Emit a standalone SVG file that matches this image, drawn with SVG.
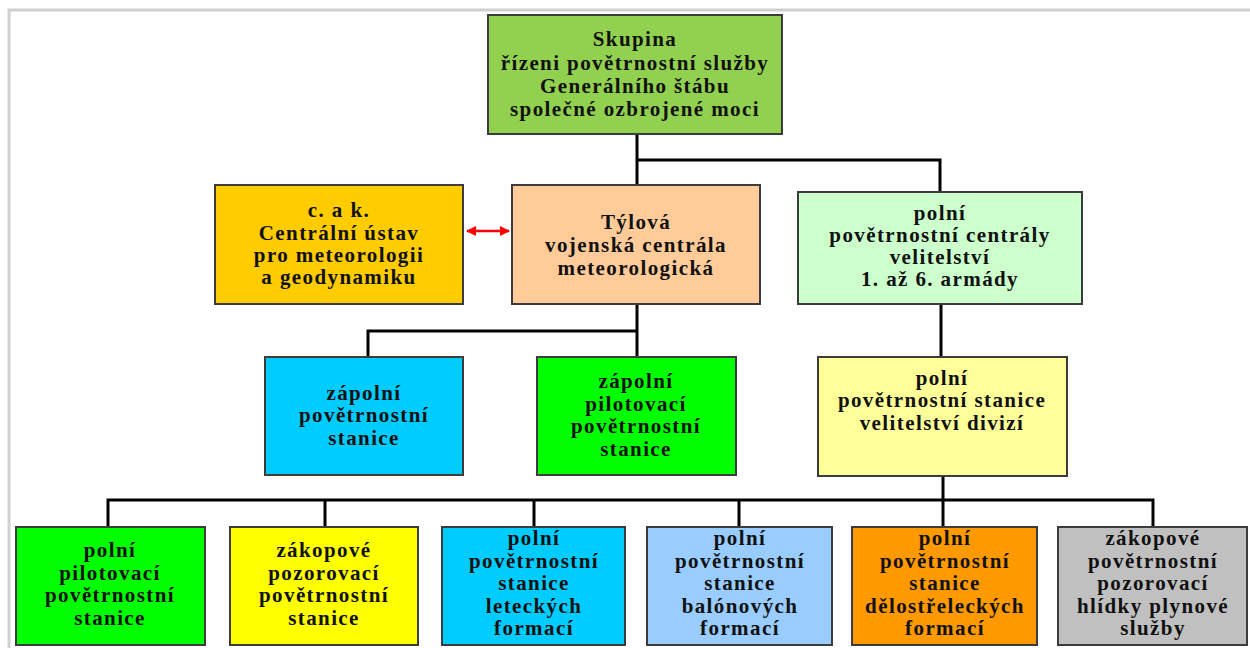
<svg xmlns="http://www.w3.org/2000/svg" width="1250" height="648" viewBox="0 0 1250 648">
<defs>
<style>
.box{stroke:#3c3c3c;stroke-width:2}
.t{font-family:"Liberation Serif","Times New Roman",serif;font-weight:bold;font-size:21px;letter-spacing:1.4px;fill:#111;text-anchor:middle}
.c{stroke:#000;stroke-width:3;fill:none}
</style>
<marker id="ar" viewBox="0 0 10 10" refX="9" refY="5" markerWidth="4" markerHeight="4" orient="auto-start-reverse">
<path d="M0,0 L10,5 L0,10 z" fill="#ff0000"/>
</marker>
</defs>
<rect width="1250" height="648" fill="#fff"/>
<path d="M9,648 V10 H1250" fill="none" stroke="#d0d0d0" stroke-width="3"/>

<g id="connectors">
<path class="c" d="M637,134 V185 M637,160 H940 V192"/>
<path class="c" d="M637,304 V357 M637,331 H368 V357"/>
<path class="c" d="M941,304 V357"/>
<path class="c" d="M943,476 V527 M108,527 V500 H1153 V527 M325,500 V527 M534,500 V527 M739,500 V527"/>
<line x1="467" y1="231" x2="509" y2="231" stroke="#ff0000" stroke-width="2.5" marker-start="url(#ar)" marker-end="url(#ar)"/>
</g>

<g id="n-skupina">
<rect class="box" x="488" y="15" width="294" height="119" fill="#92d050"/>
<text class="t" x="635" y="46">Skupina</text>
<text class="t" x="635" y="70">řízeni povětrnostní služby</text>
<text class="t" x="635" y="93">Generálního štábu</text>
<text class="t" x="635" y="116">společné ozbrojené moci</text>
</g>

<g id="n-ustav">
<rect class="box" x="215" y="185" width="248" height="119" fill="#ffcc00"/>
<text class="t" x="339" y="217">c. a k.</text>
<text class="t" x="339" y="240">Centrální ústav</text>
<text class="t" x="339" y="262">pro meteorologii</text>
<text class="t" x="339" y="284">a geodynamiku</text>
</g>

<g id="n-tylova">
<rect class="box" x="512" y="185" width="248" height="119" fill="#ffcc99"/>
<text class="t" x="636" y="229">Týlová</text>
<text class="t" x="636" y="252">vojenská centrála</text>
<text class="t" x="636" y="275">meteorologická</text>
</g>

<g id="n-polni-centraly">
<rect class="box" x="798" y="192" width="284" height="112" fill="#ccffcc"/>
<text class="t" x="940" y="220">polní</text>
<text class="t" x="940" y="242">povětrnostní centrály</text>
<text class="t" x="940" y="264">velitelství</text>
<text class="t" x="940" y="286">1. až 6. armády</text>
</g>

<g id="n-zapolni">
<rect class="box" x="265" y="357" width="198" height="118" fill="#00ccff"/>
<text class="t" x="364" y="400">zápolní</text>
<text class="t" x="364" y="422">povětrnostní</text>
<text class="t" x="364" y="445">stanice</text>
</g>

<g id="n-zapolni-pilot">
<rect class="box" x="537" y="357" width="199" height="118" fill="#00ff00"/>
<text class="t" x="636" y="388">zápolní</text>
<text class="t" x="636" y="411">pilotovací</text>
<text class="t" x="636" y="433">povětrnostní</text>
<text class="t" x="636" y="456">stanice</text>
</g>

<g id="n-divize">
<rect class="box" x="818" y="357" width="249" height="119" fill="#ffff99"/>
<text class="t" x="942" y="385">polní</text>
<text class="t" x="942" y="407">povětrnostní stanice</text>
<text class="t" x="942" y="430">velitelství divizí</text>
</g>

<g id="n-b1">
<rect class="box" x="16" y="527" width="189" height="118" fill="#00ff00"/>
<text class="t" x="110" y="557">polní</text>
<text class="t" x="110" y="580">pilotovací</text>
<text class="t" x="110" y="602">povětrnostní</text>
<text class="t" x="110" y="625">stanice</text>
</g>

<g id="n-b2">
<rect class="box" x="230" y="527" width="188" height="118" fill="#ffff00"/>
<text class="t" x="324" y="557">zákopové</text>
<text class="t" x="324" y="580">pozorovací</text>
<text class="t" x="324" y="602">povětrnostní</text>
<text class="t" x="324" y="625">stanice</text>
</g>

<g id="n-b3">
<rect class="box" x="442" y="527" width="183" height="118" fill="#00ccff"/>
<text class="t" x="534" y="545">polní</text>
<text class="t" x="534" y="568">povětrnostní</text>
<text class="t" x="534" y="590">stanice</text>
<text class="t" x="534" y="613">leteckých</text>
<text class="t" x="534" y="635">formací</text>
</g>

<g id="n-b4">
<rect class="box" x="647" y="527" width="185" height="118" fill="#99ccff"/>
<text class="t" x="740" y="545">polní</text>
<text class="t" x="740" y="568">povětrnostní</text>
<text class="t" x="740" y="590">stanice</text>
<text class="t" x="740" y="613">balónových</text>
<text class="t" x="740" y="635">formací</text>
</g>

<g id="n-b5">
<rect class="box" x="852" y="527" width="185" height="118" fill="#ff9900"/>
<text class="t" x="945" y="545">polní</text>
<text class="t" x="945" y="568">povětrnostní</text>
<text class="t" x="945" y="590">stanice</text>
<text class="t" x="945" y="613">dělostřeleckých</text>
<text class="t" x="945" y="635">formací</text>
</g>

<g id="n-b6">
<rect class="box" x="1058" y="527" width="189" height="118" fill="#c0c0c0"/>
<text class="t" x="1153" y="545">zákopové</text>
<text class="t" x="1153" y="568">povětrnostní</text>
<text class="t" x="1153" y="590">pozorovací</text>
<text class="t" x="1153" y="613">hlídky plynové</text>
<text class="t" x="1153" y="635">služby</text>
</g>
</svg>
